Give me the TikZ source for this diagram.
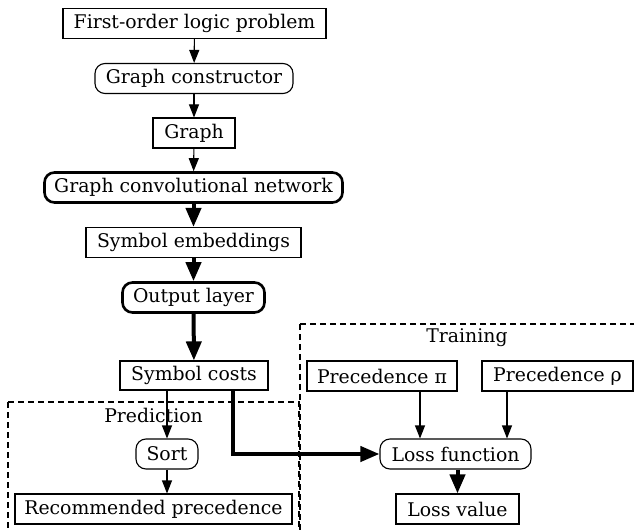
\documentclass[tikz,border=0pt]{standalone}
\usepackage{fontspec}
\setmainfont{DejaVu Serif}
\usetikzlibrary{arrows.meta}
\begin{document}
\begin{tikzpicture}[x=1bp,y=-1bp,
  every node/.style={inner sep=0pt,font=\fontsize{18.9}{22}\selectfont,anchor=center},
  box/.style={draw,line width=1.1bp,minimum height=30bp},
  rbox/.style={box,rounded corners=10bp},
  tbox/.style={draw,line width=2.6bp,minimum height=30bp,rounded corners=10bp},
  flow/.style={line width=1.1bp,-{Triangle[length=13bp 0,width=10bp 0]}},
  heavyflow/.style={line width=4bp,-{Triangle[length=19bp 0,width=15bp 0]}},
  cluster/.style={draw,line width=1.1bp,dash pattern=on 6bp off 4bp}]
\useasboundingbox (0,0) rectangle (634,530);
% clusters
\draw[cluster] (8,402) -- (8,535) (8,402) -- (299,402) -- (299,535);
\draw[cluster] (300,324) -- (300,535) (300,324) -- (640,324);
\node (lpred) at (153.5,415) {Prediction};
\node (ltrain) at (467,338) {Training};
% main pipeline
\node[box,minimum width=263bp] (fol) at (194.5,23.5) {First-order logic problem};
\node[rbox,minimum width=198bp] (gc) at (194,78.5) {Graph constructor};
\node[box,minimum width=82bp] (graph) at (194,133) {Graph};
\node[tbox,minimum width=298bp] (gcn) at (193.5,187.5) {Graph convolutional network};
\node[box,minimum width=215bp] (emb) at (193.5,242.5) {Symbol embeddings};
\node[tbox,minimum width=142bp] (out) at (193.5,297.5) {Output layer};
\node[box,minimum width=148bp,minimum height=29bp] (costs) at (194,375.5) {Symbol costs};
% prediction
\node[rbox,minimum width=62bp] (sort) at (167,454) {Sort};
\node[box,minimum width=277bp] (rec) at (153.5,509) {Recommended precedence};
% training
\node[box,minimum width=150bp] (pi) at (382,376) {Precedence π};
\node[box,minimum width=151bp] (rho) at (557.5,376) {Precedence ρ};
\node[rbox,minimum width=151bp] (loss) at (455.5,454) {Loss function};
\node[box,minimum width=123bp] (lval) at (457.5,509) {Loss value};
% edges
\draw[flow] (fol) -- (gc);
\draw[flow] (gc) -- (graph);
\draw[flow] (graph) -- (gcn);
\draw[heavyflow] (gcn) -- (emb);
\draw[heavyflow] (emb) -- (out);
\draw[heavyflow] (out) -- (costs);
\coordinate (sx) at (167,0);
\draw[flow] (costs.south -| sx) -- (sort.north);
\draw[flow] (sort.south) -- (rec.north -| sort.south);
\coordinate (cx) at (233,0);
\draw[heavyflow] (costs.south -| cx) |- (loss.west);
\coordinate (px) at (420,0);
\coordinate (rx) at (507,0);
\draw[flow] (pi.south -| px) -- (loss.north -| px);
\draw[flow] (rho.south -| rx) -- (loss.north -| rx);
\draw[heavyflow] (loss.south -| lval) -- (lval);
\end{tikzpicture}
\end{document}
